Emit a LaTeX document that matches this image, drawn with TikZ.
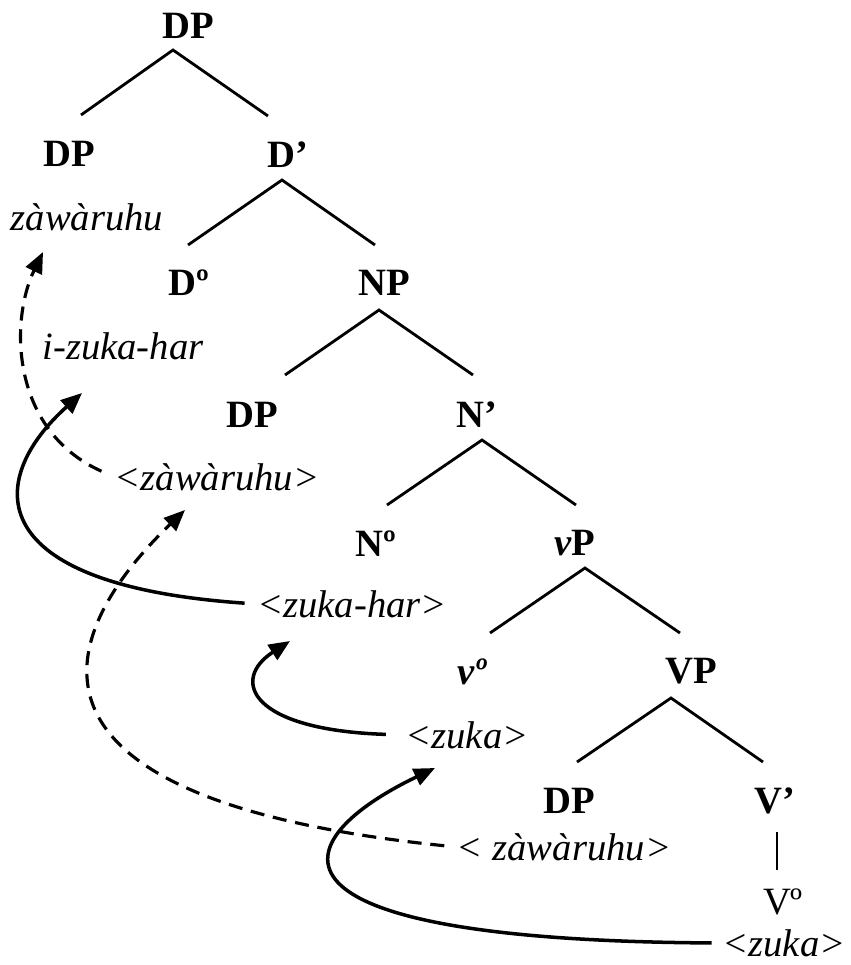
\documentclass[tikz,border=0pt]{standalone}
\usepackage{fontspec}
\setmainfont{Liberation Serif}
\usetikzlibrary{arrows.meta}

\begin{document}
\begin{tikzpicture}[x=0.02cm,y=-0.02cm,
  every node/.style={inner sep=0pt},
  cat/.style={font=\fontsize{22}{26}\selectfont\bfseries},
  word/.style={font=\fontsize{22}{26}\selectfont\itshape},
  plain/.style={font=\fontsize{22}{26}\selectfont},
  branch/.style={line width=1.6pt},
  move/.style={line width=2pt,-{Triangle[length=12pt,width=10pt]}},
  copymove/.style={move,line width=1.8pt,dash pattern=on 8pt off 5pt}]
\useasboundingbox (0,0) rectangle (850,965);

%Category labels of the tree
\node[cat] (dp) at (188,26) {DP};
\node[cat] (dpspec) at (69,154) {DP};
\node[cat] (dbar) at (288,155) {D’};
\node[cat] (dhead) at (189,283) {Dº};
\node[cat] (np) at (384,283) {NP};
\node[cat] (npspec) at (252,415) {DP};
\node[cat] (nbar) at (477,415) {N’};
\node[cat] (nhead) at (376,544) {Nº};
\node[cat] (vlp) at (575,543) {\itshape v\upshape P};
\node[cat] (vlhead) at (472,672) {\itshape vº};
\node[cat] (vp) at (691,671) {VP};
\node[cat] (vpspec) at (569,801) {DP};
\node[cat] (vbar) at (775,801) {V’};
\node[plain] (vhead) at (783,902) {Vº};

%Words and their copies
\node[word] (wordA) at (87,217) {zàwàruhu};
\node[word] (wordB) at (123,346) {i-zuka-har};
\node[word] (traceA) at (217,477) {<zàwàruhu>};
\node[word] (traceB) at (352,604) {<zuka-har>};
\node[word] (traceC) at (467,735) {<zuka>};
\node[word] (traceD) at (564,847) {< zàwàruhu>};
\node[word] (traceE) at (784,943) {<zuka>};

%Branching points so the lines keep the same slope
\coordinate (a1) at (173,50);  \coordinate (l1) at (81,115);  \coordinate (r1) at (268,116);
\coordinate (a2) at (282,180); \coordinate (l2) at (188,245); \coordinate (r2) at (375,245);
\coordinate (a3) at (379,310); \coordinate (l3) at (285,375); \coordinate (r3) at (473,375);
\coordinate (a4) at (482,440); \coordinate (l4) at (387,505); \coordinate (r4) at (576,505);
\coordinate (a5) at (585,568); \coordinate (l5) at (490,633); \coordinate (r5) at (680,633);
\coordinate (a6) at (671,698); \coordinate (l6) at (577,762); \coordinate (r6) at (763,762);
\coordinate (a7) at (777,832); \coordinate (b7) at (777,870);

%Drawing the branches
\foreach \i in {1,...,6}
  \draw[branch] (l\i) -- (a\i) -- (r\i);
\draw[branch] (a7) -- (b7);

%Arrow tips
\coordinate (tipA) at (43,252);
\coordinate (tipB) at (82,393);
\coordinate (tipC) at (185,510);
\coordinate (tipD) at (290,641);
\coordinate (tipE) at (435,768);

%Movement arrows
\draw[copymove,shorten <=8pt] (traceA.west) .. controls (10,430) and (10,320) .. (tipA);
\draw[move,shorten <=7pt] (traceB.west) .. controls (-20,585) and (-15,480) .. (tipB);
\draw[copymove,shorten <=7pt] (traceD.west) .. controls (0,800) and (50,640) .. (tipC);
\draw[move,shorten <=11pt] (traceC.west) .. controls (250,730) and (230,680) .. (tipD);
\draw[move,shorten <=6pt] (traceE.west) .. controls (240,940) and (285,840) .. (tipE);
\end{tikzpicture}
\end{document}
